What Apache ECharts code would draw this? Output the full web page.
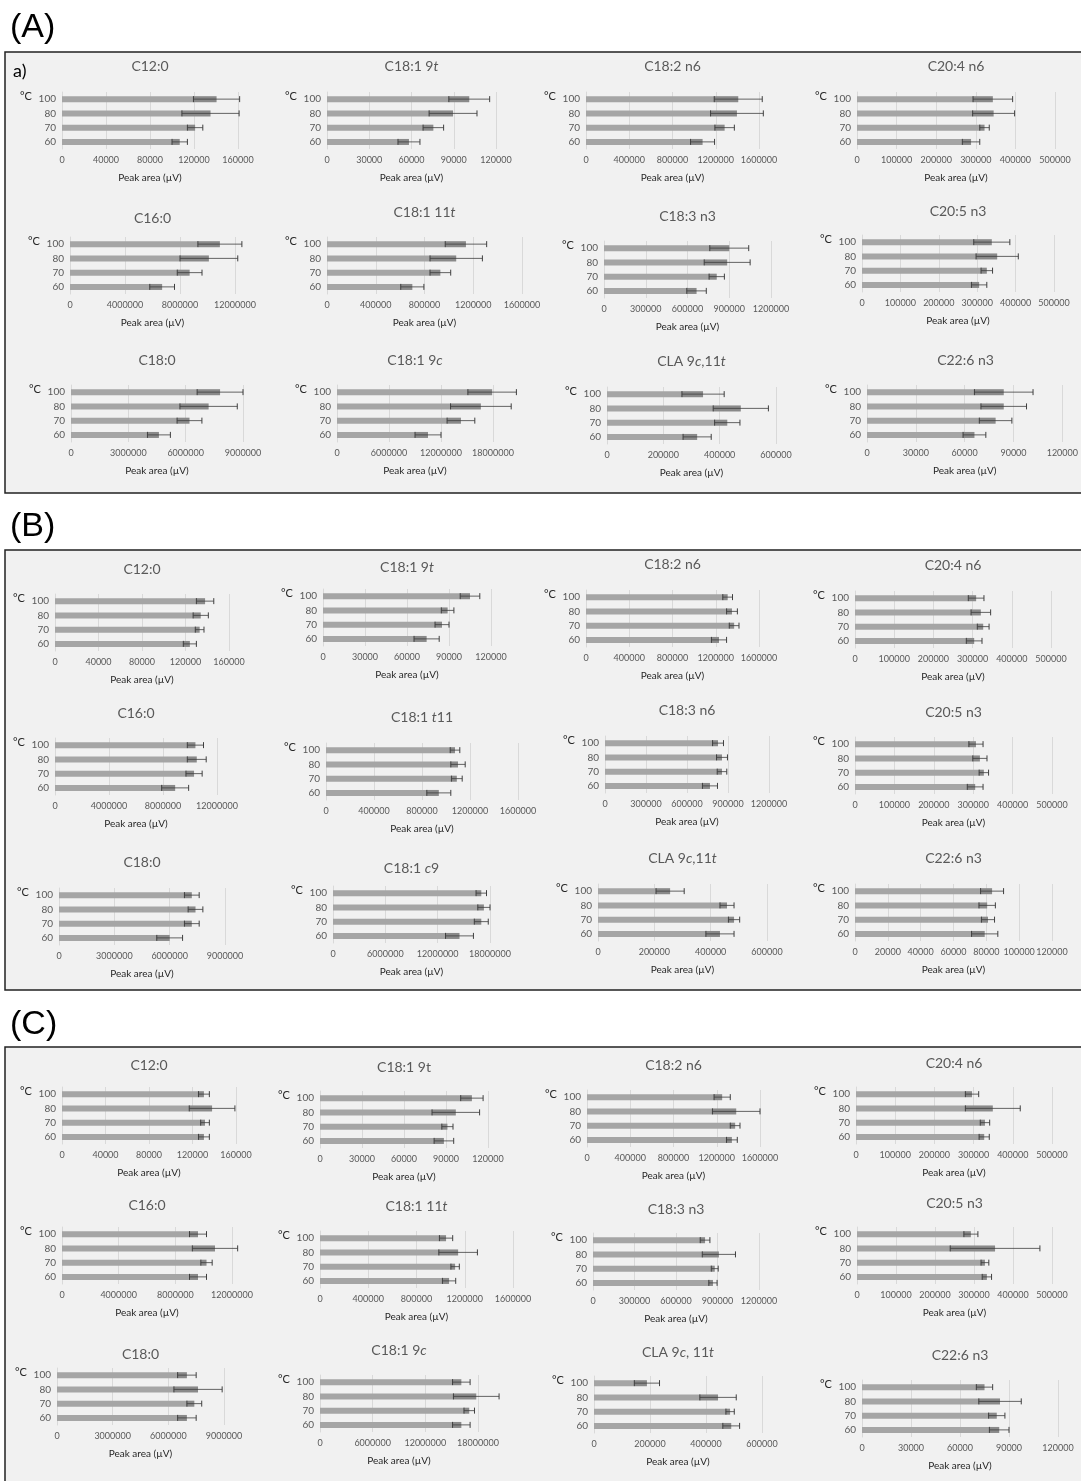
<!DOCTYPE html>
<html>
<head>
	<meta charset="UTF-8">
	<title>Peak area</title>
	<style>
		html, body { margin: 0; padding: 0; background: #fff; }
		#main { width: 1081px; height: 1481px; }
	</style>
</head>
<body>
	<div id="main"></div>
</body>
<script src="https://cdn.jsdelivr.net/npm/echarts@6/dist/echarts.min.js"></script>
<script>
// temperatures, bottom to top
var temps = ['60', '70', '80', '100'];

var namesA = ['C12:0', 'C18:1 9{i|t}', 'C18:2 n6', 'C20:4 n6',
    'C16:0', 'C18:1 11{i|t}', 'C18:3 n3', 'C20:5 n3',
    'C18:0', 'C18:1 9{i|c}', 'CLA 9{i|c},11{i|t}', 'C22:6 n3'];
var namesB = ['C12:0', 'C18:1 9{i|t}', 'C18:2 n6', 'C20:4 n6',
    'C16:0', 'C18:1 {i|t}11', 'C18:3 n6', 'C20:5 n3',
    'C18:0', 'C18:1 {i|c}9', 'CLA 9{i|c},11{i|t}', 'C22:6 n3'];
var namesC = ['C12:0', 'C18:1 9t', 'C18:2 n6', 'C20:4 n6',
    'C16:0', 'C18:1 11{i|t}', 'C18:3 n3', 'C20:5 n3',
    'C18:0', 'C18:1 9{i|c}', 'CLA 9{i|c}, 11{i|t}', 'C22:6 n3'];

// axis max and tick step for each chart
var axisMax = [160000, 120000, 1600000, 500000, 12000000, 1600000, 1200000, 500000, 9000000, 18000000, 600000, 120000];
var stepsA = [40000, 30000, 400000, 100000, 4000000, 400000, 300000, 100000, 3000000, 6000000, 200000, 30000];
var stepsB = [40000, 30000, 400000, 100000, 4000000, 400000, 300000, 100000, 3000000, 6000000, 200000, 20000];
var stepsC = stepsA;

// peak area means, order 60, 70, 80, 100 °C
var meansA = [
    [107000, 121000, 135000, 140500],
    [58200, 75500, 89500, 101000],
    [1078000, 1282000, 1396000, 1408000],
    [288000, 322000, 345000, 343000],
    [6700000, 8700000, 10100000, 10900000],
    [700000, 930000, 1060000, 1140000],
    [665000, 810000, 885000, 900000],
    [305000, 325000, 352000, 338000],
    [4600000, 6200000, 7200000, 7800000],
    [10500000, 14300000, 16600000, 17900000],
    [320000, 427000, 475000, 341000],
    [66000, 79000, 84000, 84000]
];
var errA = [
    [7000, 7000, 26000, 21000],
    [7800, 7300, 17000, 14500],
    [111000, 90000, 244000, 222000],
    [22000, 12000, 53000, 50000],
    [900000, 900000, 2100000, 1600000],
    [95000, 85000, 215000, 170000],
    [70000, 55000, 165000, 140000],
    [20000, 15000, 55000, 47000],
    [600000, 650000, 1500000, 1200000],
    [1500000, 1600000, 3500000, 2800000],
    [50000, 45000, 98000, 75000],
    [7000, 10000, 14000, 18000]
];

var meansB = [
    [124000, 133000, 134000, 138000],
    [74000, 85000, 89000, 105000],
    [1230000, 1370000, 1350000, 1310000],
    [304000, 327000, 321000, 309000],
    [8900000, 10300000, 10500000, 10400000],
    [940000, 1090000, 1100000, 1075000],
    [768000, 856000, 856000, 827000],
    [305000, 327000, 317000, 307000],
    [6000000, 7200000, 7400000, 7200000],
    [14500000, 17000000, 17300000, 17000000],
    [433000, 483000, 458000, 256000],
    [79000, 81000, 80500, 83500]
];
var errB = [
    [6000, 4000, 7000, 8000],
    [9000, 5000, 4500, 7000],
    [70000, 45000, 50000, 45000],
    [20000, 15000, 25000, 20000],
    [1000000, 600000, 700000, 600000],
    [100000, 45000, 60000, 40000],
    [55000, 35000, 40000, 40000],
    [20000, 12000, 18000, 18000],
    [700000, 400000, 400000, 400000],
    [1600000, 800000, 700000, 600000],
    [50000, 20000, 25000, 50000],
    [8000, 4000, 5000, 7000]
];

var meansC = [
    [130500, 131500, 138000, 130500],
    [88500, 91000, 97000, 108500],
    [1340000, 1370000, 1380000, 1250000],
    [327000, 329000, 349000, 296000],
    [9600000, 10200000, 10800000, 9600000],
    [1070000, 1120000, 1145000, 1045000],
    [867000, 880000, 910000, 810000],
    [333000, 328000, 354000, 292000],
    [7000000, 7400000, 7600000, 7000000],
    [16100000, 17000000, 17800000, 16100000],
    [490000, 486000, 443000, 189000],
    [84000, 82500, 84500, 75000]
];
var errC = [
    [5000, 4000, 21000, 5000],
    [7000, 4000, 17000, 8000],
    [50000, 45000, 220000, 75000],
    [13000, 12000, 70000, 17000],
    [600000, 400000, 1600000, 600000],
    [55000, 35000, 160000, 55000],
    [30000, 25000, 120000, 35000],
    [12000, 10000, 115000, 18000],
    [500000, 400000, 1300000, 500000],
    [1000000, 600000, 2600000, 1000000],
    [30000, 15000, 65000, 45000],
    [6000, 5000, 13000, 5000]
];

// layout per chart: [x of 0, x of max, y of 100 bar, y of title]
var layoutA = [
    [62, 238, 99, 68], [327, 496, 99, 68], [586, 759, 99, 68], [857, 1055, 99, 68],
    [70, 235, 244, 220], [327, 522, 244, 214], [604, 771, 248, 218], [862, 1054, 242, 213],
    [71, 243, 392, 362], [337, 493, 392, 362], [607, 776, 394, 363], [867, 1064, 392, 362]
];
var layoutB = [
    [55, 229, 601, 571], [323, 491, 596, 569], [586, 759, 597, 566], [855, 1051, 598, 567],
    [55, 217, 745, 715], [326, 518, 750, 719], [605, 769, 743, 712], [855, 1052, 744, 714],
    [59, 225, 895, 864], [333, 490, 893, 870], [598, 767, 891, 860], [855, 1052, 891, 860]
];
var layoutC = [
    [62, 236, 1094, 1067], [320, 488, 1098, 1069], [587, 760, 1097, 1067], [856, 1052, 1094, 1065],
    [62, 232, 1234, 1207], [320, 513, 1238, 1208], [593, 759, 1240, 1211], [857, 1052, 1234, 1205],
    [57, 224, 1375, 1356], [320, 478, 1382, 1352], [594, 762, 1383, 1354], [862, 1058, 1387, 1357]
];

var panels = [
    { label: '(A)', boxTop: 52, boxH: 441, labelY: 28, names: namesA, means: meansA, errs: errA, steps: stepsA, layout: layoutA },
    { label: '(B)', boxTop: 550, boxH: 440, labelY: 527, names: namesB, means: meansB, errs: errB, steps: stepsB, layout: layoutB },
    { label: '(C)', boxTop: 1047, boxH: 440, labelY: 1025, names: namesC, means: meansC, errs: errC, steps: stepsC, layout: layoutC }
];

var font = 'Lato, "Open Sans", sans-serif';

// error bar: darker part over the bar, whisker and caps
function renderErr(params, api) {
    var v = api.value(0), k = api.value(1), e = api.value(2);
    var c = api.coord([v, k]);
    var lo = api.coord([v - e, k]);
    var hi = api.coord([v + e, k]);
    var y = c[1];
    var ink = { stroke: '#3f3f3f', lineWidth: 1 };
    return {
        type: 'group',
        children: [
            { type: 'rect', shape: { x: lo[0], y: y - 3, width: c[0] - lo[0], height: 6 }, style: { fill: 'rgba(0,0,0,0.17)' } },
            { type: 'line', shape: { x1: lo[0], y1: y, x2: hi[0], y2: y }, style: { stroke: '#3f3f3f', lineWidth: 0.8 } },
            { type: 'line', shape: { x1: lo[0], y1: y - 3, x2: lo[0], y2: y + 3 }, style: ink },
            { type: 'line', shape: { x1: hi[0], y1: y - 3, x2: hi[0], y2: y + 3 }, style: ink }
        ]
    };
}

var option = {
    backgroundColor: '#ffffff',
    animation: false,
    title: [],
    grid: [],
    xAxis: [],
    yAxis: [],
    series: [],
    graphic: { elements: [] }
};

panels.forEach(function (p) {
    // panel box and label
    option.graphic.elements.push({
        type: 'rect', z: -100,
        shape: { x: 5, y: p.boxTop, width: 1080, height: p.boxH },
        style: { fill: '#f1f1f1', stroke: '#222', lineWidth: 1.5 }
    });
    option.graphic.elements.push({
        type: 'text', x: 10, y: p.labelY,
        style: { text: p.label, fontSize: 34, fontFamily: '"Liberation Sans", Arial, sans-serif', fill: '#000', verticalAlign: 'middle' }
    });

    p.names.forEach(function (name, ci) {
        var idx = option.grid.length;
        var L = p.layout[ci];
        option.grid.push({ left: L[0], top: L[2] - 7, width: L[1] - L[0], height: 57 });
        option.xAxis.push({
            type: 'value', gridIndex: idx, min: 0, max: axisMax[ci], interval: p.steps[ci],
            axisLine: { show: false }, axisTick: { show: false },
            splitLine: { lineStyle: { color: '#d9d9d9', width: 1 } },
            axisLabel: {
                fontSize: 9, color: '#595959', margin: 7, fontFamily: font,
                showMinLabel: true, showMaxLabel: true,
                formatter: function (v) { return String(v); }
            },
            name: 'Peak area (µV)', nameLocation: 'middle', nameGap: 24,
            nameTextStyle: { fontSize: 10, color: '#262626', fontFamily: font }
        });
        option.yAxis.push({
            type: 'category', gridIndex: idx, data: temps,
            axisLine: { show: true, lineStyle: { color: '#d9d9d9' } }, axisTick: { show: false },
            axisLabel: { fontSize: 10, color: '#595959', margin: 6, fontFamily: font }
        });
        option.series.push({
            type: 'bar', xAxisIndex: idx, yAxisIndex: idx, barWidth: 6, silent: true,
            itemStyle: { color: '#a5a5a5' },
            data: p.means[ci]
        });
        option.series.push({
            type: 'custom', xAxisIndex: idx, yAxisIndex: idx, silent: true, z: 3,
            renderItem: renderErr, encode: { x: 0, y: 1 },
            data: p.means[ci].map(function (v, k) { return [v, k, p.errs[ci][k]]; })
        });
        option.title.push({
            text: name, left: (L[0] + L[1]) / 2, top: L[3] - 9, textAlign: 'center', padding: 0,
            textStyle: {
                fontSize: 14, fontWeight: 'normal', color: '#595959', fontFamily: font,
                rich: { i: { fontSize: 14, fontStyle: 'italic', color: '#595959', fontFamily: font } }
            }
        });
        option.graphic.elements.push({
            type: 'text', x: L[0] - 36, y: L[2] - 3,
            style: { text: '°C', fontSize: 11, fontFamily: font, fill: '#262626', align: 'center', verticalAlign: 'middle' }
        });
    });
});

// small "a)" tag in panel A
option.graphic.elements.push({
    type: 'text', x: 13, y: 71,
    style: { text: 'a)', fontSize: 18, fontFamily: font, fill: '#000', verticalAlign: 'middle' }
});

var chart = echarts.init(document.getElementById('main'));
chart.setOption(option);
</script>
</html>
